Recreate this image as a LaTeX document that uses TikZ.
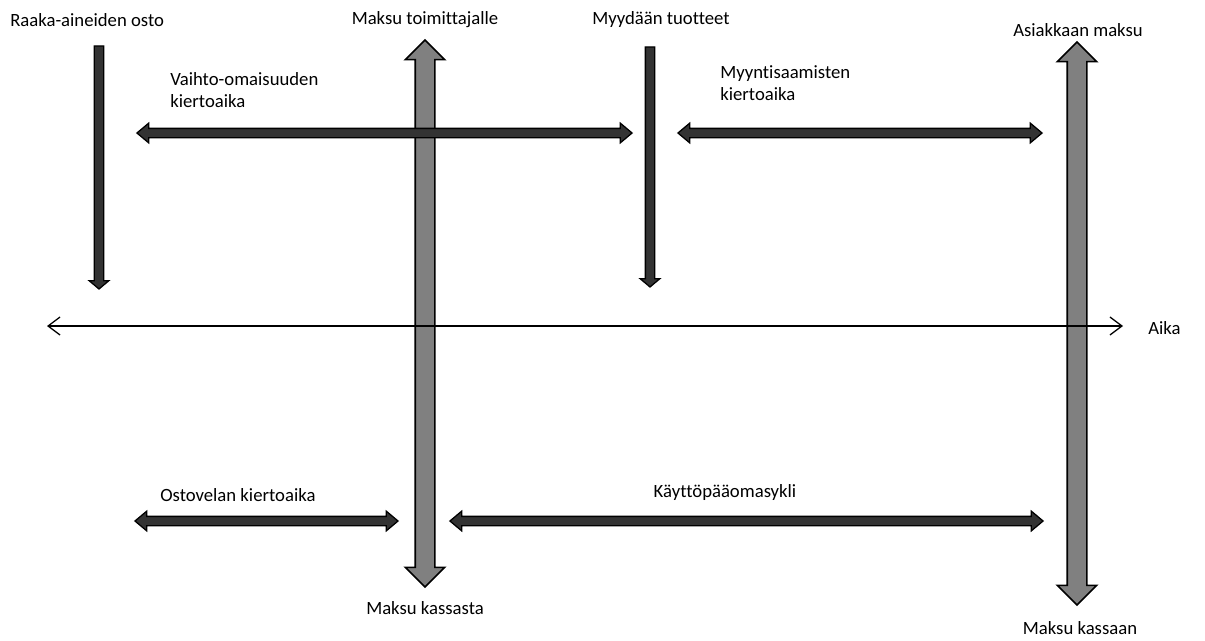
\documentclass[tikz,border=0pt]{standalone}
\usepackage{fontspec}
\setmainfont[Ligatures=NoCommon]{Carlito}
\usetikzlibrary{shapes.arrows, arrows.meta}

\begin{document}
\begin{tikzpicture}[x=0.025cm, y=-0.025cm, font=\fontsize{13.3}{16}\selectfont]
	\tikzset{bigarrow/.style={double arrow, draw=black, line width=1.1pt, fill=black!50, inner sep=0.225cm, double arrow head extend=0.25cm, double arrow tip angle=90, minimum height=#1}}
	\tikzset{thinarrow/.style={double arrow, draw=black, line width=0.9pt, fill=black!80, inner sep=0.1cm, double arrow head extend=0.13cm, double arrow tip angle=80, minimum height=#1}}
	\tikzset{downarrow/.style={single arrow, draw=black, line width=0.9pt, fill=black!80, inner sep=0.1cm, single arrow head extend=0.13cm, single arrow tip angle=100, minimum height=#1, rotate=-90}}
	\tikzset{label/.style={inner sep=0pt}}
	\useasboundingbox (0,0) rectangle (1205,640);

	% payment arrows
	\node (toimittaja) [bigarrow=13.675cm, rotate=90] at (425,313.5) {};
	\node (asiakas) [bigarrow=14.075cm, rotate=90] at (1077,323.5) {};

	% time axis
	\coordinate (alku) at (47,326);
	\coordinate (loppu) at (1123,326);
	\draw[{Straight Barb[length=0.3cm,width=0.45cm]}-{Straight Barb[length=0.3cm,width=0.45cm]}, line width=0.9pt] (alku) -- (loppu);
	\node (aika) [label, anchor=west] at (1148,328) {Aika};

	% events
	\node (osto) [downarrow=6.075cm] at (99,165.5) {};
	\node (myynti) [downarrow=6cm] at (650,165) {};
	\node (ostoteksti) [label, anchor=west] at (10,20) {Raaka-aineiden osto};
	\node (toimittajateksti) [label] at (425,20) {Maksu toimittajalle};
	\node (myyntiteksti) [label] at (661,20) {Myydään tuotteet};
	\node (asiakasteksti) [label] at (1078,30) {Asiakkaan maksu};
	\node (kassasta) [label] at (425,608) {Maksu kassasta};
	\node (kassaan) [label] at (1080,628) {Maksu kassaan};

	% periods
	\node (vaihto) [thinarrow=12.375cm] at (384.5,133) {};
	\node (saamiset) [thinarrow=9.1cm] at (860,133) {};
	\node (ostovelka) [thinarrow=6.575cm] at (266.5,521) {};
	\node (sykli) [thinarrow=14.825cm] at (746.5,521) {};
	\node (vaihtoteksti) [label, anchor=north west, align=left] at (170,72) {Vaihto-omaisuuden\\kiertoaika};
	\node (saamisteksti) [label, anchor=north west, align=left] at (720,65) {Myyntisaamisten\\kiertoaika};
	\node (ostovelkateksti) [label, anchor=west] at (160,495) {Ostovelan kiertoaika};
	\node (syklitekst) [label] at (725,493) {Käyttöpääomasykli};
\end{tikzpicture}
\end{document}
